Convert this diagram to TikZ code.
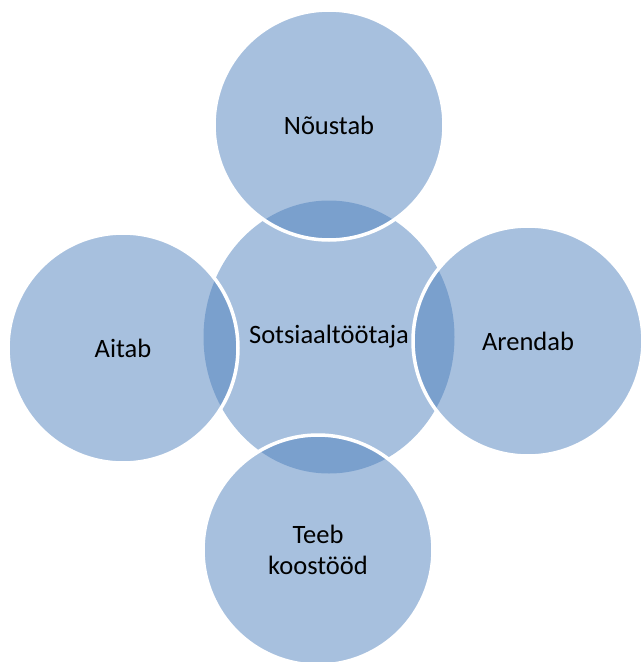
\documentclass[tikz,border=0pt]{standalone}
\usepackage{fontspec}
\setmainfont{Carlito}
\usetikzlibrary{shapes.geometric}
\definecolor{accentblue}{RGB}{79,129,189}

\begin{document}
\begin{tikzpicture}[x=1pt, y=-1pt]
    \tikzset{bubble/.style={
        circle, inner sep=0pt, minimum size=230pt, align=center,
        fill=accentblue, fill opacity=0.5, text opacity=1,
        font=\fontsize{26.5}{31}\selectfont
      },
      outerbubble/.style={bubble, draw=white, line width=3.5pt},
      centerbubble/.style={bubble, ellipse, minimum width=251pt, minimum height=273pt}
    }

    \useasboundingbox (0,0) rectangle (642,662);

    \node[centerbubble] (S) at (329,337) {Sotsiaaltöötaja};

    \node[outerbubble] (N) at (329,125) {Nõustab};
    \node[outerbubble] (A) at (123,348) {Aitab};
    \node[outerbubble] (R) at (528,341) {Arendab};
    \node[outerbubble] (K) at (318,550) {Teeb\\koostööd};
\end{tikzpicture}
\end{document}
